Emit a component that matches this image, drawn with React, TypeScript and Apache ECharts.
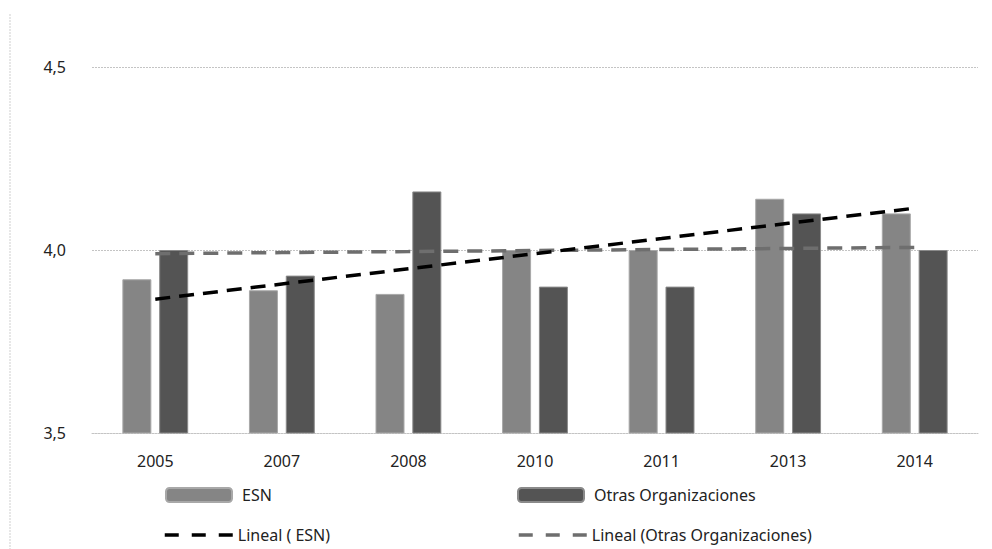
import React, { useEffect, useRef } from "react";
import * as echarts from "echarts";

const categories = ["2005", "2007", "2008", "2010", "2011", "2013", "2014"];
const esnValues = [3.92, 3.89, 3.88, 4.0, 4.0, 4.14, 4.1];
const otrasValues = [4.0, 3.93, 4.16, 3.9, 3.9, 4.1, 4.0];
const yTicks = [3.5, 4.0, 4.5];

function linearTrend(values: number[]): number[] {
  const n = values.length;
  const xm = (n - 1) / 2;
  const ym = values.reduce((a, b) => a + b, 0) / n;
  let sxy = 0;
  let sxx = 0;
  values.forEach((v, i) => {
    sxy += (i - xm) * (v - ym);
    sxx += (i - xm) * (i - xm);
  });
  const slope = sxy / sxx;
  return values.map((_, i) => +(ym + slope * (i - xm)).toFixed(4));
}

const FONT = "'Noto Sans', 'Open Sans', sans-serif";

export default function App() {
  const ref = useRef<HTMLDivElement>(null);
  useEffect(() => {
    if (!ref.current) return;
    const chart = echarts.init(ref.current, undefined, { renderer: "svg" });
    const legendText = { fontFamily: FONT, fontSize: 16, color: "#222", padding: [0, 0, 0, 5] };
    chart.setOption({
      animation: false,
      backgroundColor: "#ffffff",
      grid: { left: 92, right: 14, top: 67, bottom: 116, containLabel: false },
      xAxis: {
        type: "category",
        data: categories,
        axisTick: { show: false },
        axisLine: { show: true, lineStyle: { color: "#c4c4c4", type: [2, 1], width: 1 } },
        axisLabel: { fontFamily: FONT, fontSize: 16, color: "#222", margin: 20 },
      },
      yAxis: {
        type: "value",
        min: 3.5,
        max: 4.5,
        interval: 0.5,
        axisLine: { show: false },
        axisTick: { show: false },
        axisLabel: {
          fontFamily: FONT,
          fontSize: 16,
          color: "#222",
          margin: 26,
          formatter: (v: number) => (yTicks.includes(v) ? v.toFixed(1).replace(".", ",") : ""),
        },
        splitLine: { show: true, lineStyle: { color: "#c4c4c4", type: [2, 1], width: 1 } },
      },
      legend: [
        {
          data: ["ESN"], left: 165, top: 487, padding: 0, itemWidth: 66, itemHeight: 14,
          textStyle: legendText, selectedMode: false,
        },
        {
          data: ["Otras Organizaciones"], left: 517, top: 487, padding: 0, itemWidth: 66, itemHeight: 14,
          textStyle: legendText, selectedMode: false,
        },
        {
          data: ["Lineal ( ESN)"], left: 163, top: 527, padding: 0, itemWidth: 68, itemHeight: 14,
          itemStyle: { opacity: 0 },
          lineStyle: { width: 3.5, type: [14, 13] },
          textStyle: { ...legendText, padding: [0, 0, 0, 0] }, selectedMode: false,
        },
        {
          data: ["Lineal (Otras Organizaciones)"], left: 517, top: 527, padding: 0, itemWidth: 68, itemHeight: 14,
          itemStyle: { opacity: 0 },
          lineStyle: { width: 3.5, type: [14, 13] },
          textStyle: { ...legendText, padding: [0, 0, 0, 0] }, selectedMode: false,
        },
      ],
      series: [
        {
          name: "ESN",
          type: "bar",
          data: esnValues,
          barWidth: 29,
          barGap: "27%",
          itemStyle: { color: "#858585", borderColor: "#a8a8a8", borderWidth: 1 },
        },
        {
          name: "Otras Organizaciones",
          type: "bar",
          data: otrasValues,
          barWidth: 29,
          barGap: "27%",
          itemStyle: { color: "#545454", borderColor: "#8a8a8a", borderWidth: 1 },
        },
        {
          name: "Lineal ( ESN)",
          type: "line",
          data: linearTrend(esnValues),
          symbol: "none",
          z: 5,
          lineStyle: { color: "#000000", width: 3.5, type: [15, 9] },
          itemStyle: { color: "#000000" },
        },
        {
          name: "Lineal (Otras Organizaciones)",
          type: "line",
          data: linearTrend(otrasValues),
          symbol: "none",
          z: 4,
          lineStyle: { color: "#6e6e6e", width: 3.5, type: [15, 9] },
          itemStyle: { color: "#6e6e6e" },
        },
      ],
      graphic: [
        {
          type: "line",
          shape: { x1: 10, y1: 14, x2: 10, y2: 549 },
          style: { stroke: "#cfcfcf", lineWidth: 1, lineDash: [2, 1] },
        },
      ],
    });
    return () => chart.dispose();
  }, []);
  return (
    <div
      ref={ref}
      style={{ position: "absolute", left: 0, top: 0, width: 992, height: 549 }}
    />
  );
}
